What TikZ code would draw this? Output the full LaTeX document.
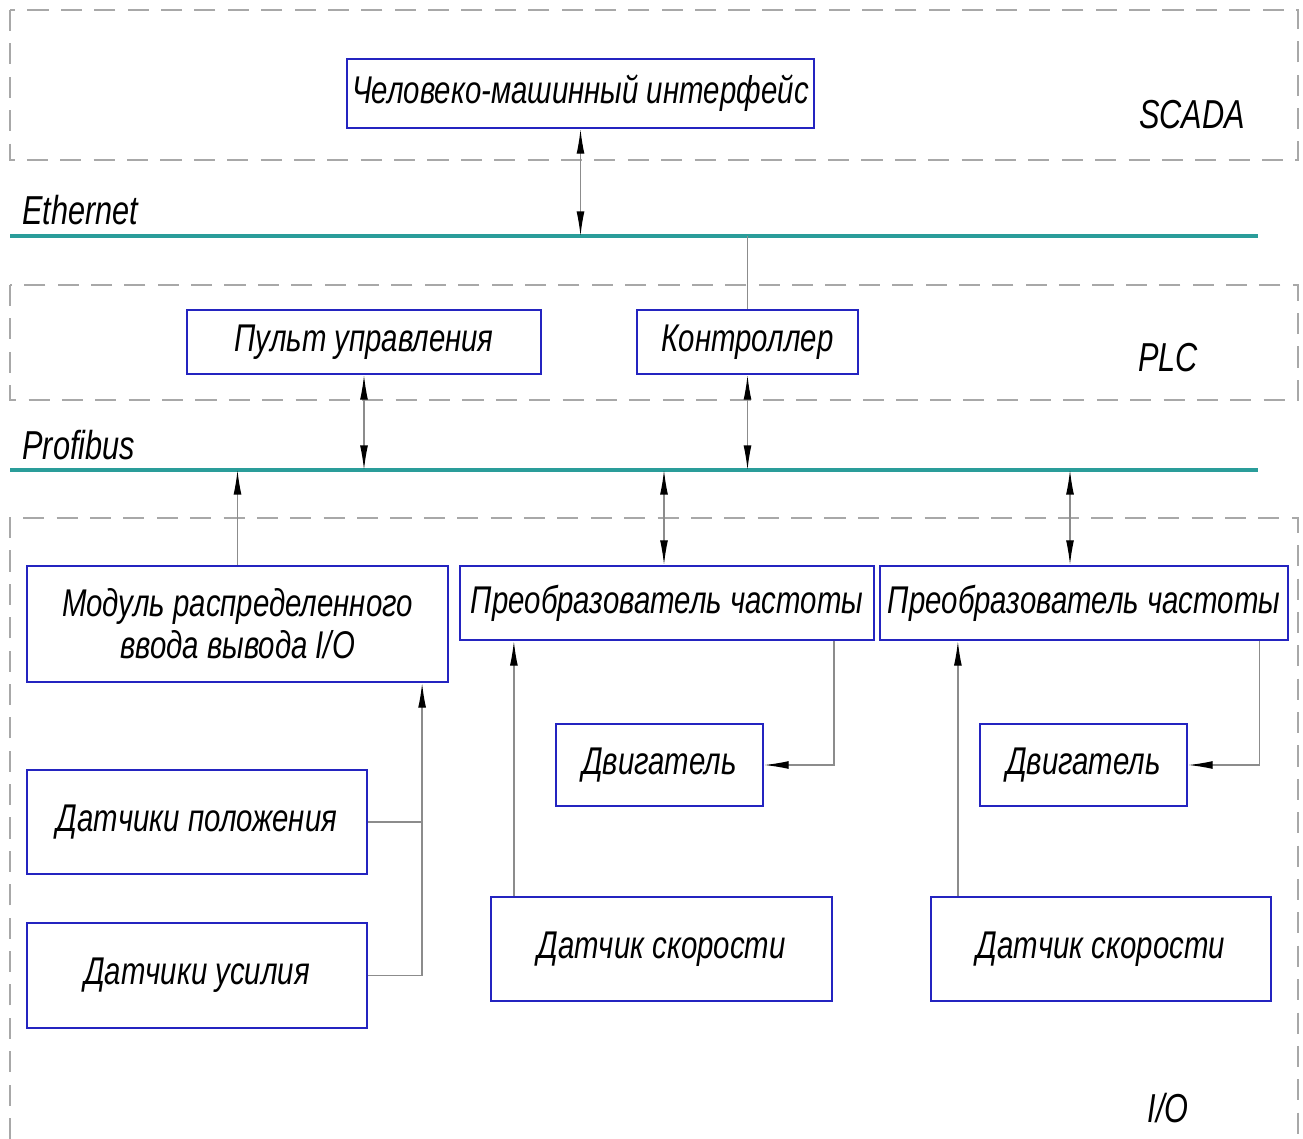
\documentclass[tikz,border=0pt]{standalone}
\usepackage{fontspec}
\setmainfont{Liberation Sans}[FakeStretch=0.76]
\usetikzlibrary{arrows.meta,calc}
\definecolor{BoxBlue}{HTML}{2424C0}
\definecolor{BusTeal}{HTML}{2A9D9A}
\definecolor{ZoneGray}{HTML}{A8A8A8}
\definecolor{LinkGray}{HTML}{8C8C8C}
\tikzset{
  blk/.style={draw=BoxBlue,line width=1.3pt,inner sep=0pt,align=center,
    font=\fontsize{22}{24}\selectfont\itshape},
  lbl/.style={inner sep=0pt,font=\fontsize{23}{24}\selectfont\itshape},
  zone/.style={draw=ZoneGray,line width=0.7pt,dash pattern=on 12pt off 7pt},
  bus/.style={draw=BusTeal,line width=2.2pt},
  link/.style={draw=LinkGray,line width=0.7pt},
  arr/.style={link,-{Latex[length=14pt,width=4.5pt,color=black]}},
  biarr/.style={link,{Latex[length=14pt,width=4.5pt,color=black]}-{Latex[length=14pt,width=4.5pt,color=black]}},
}

\begin{document}
\begin{tikzpicture}[x=0.02cm,y=-0.02cm]
    \useasboundingbox (0,0) rectangle (1303,1139);
    \draw[zone] (10,10) rectangle (1298,160);
    \draw[zone] (10,285) rectangle (1298,400);
    \draw[zone] (10,1139) -- (10,518) -- (1298,518) -- (1298,1139);
    \node[lbl] (scada) at (1192,115) {SCADA};
    \node[lbl] (plclbl) at (1168,358) {PLC};
    \node[lbl] (iolbl) at (1168,1108) {I/O};
    \node[lbl,anchor=west] (ethlbl) at (22,210) {Ethernet};
    \node[lbl,anchor=west] (pblbl) at (22,445) {Profibus};
    \coordinate (ethL) at (10,236);
    \coordinate (ethR) at (1258,236);
    \coordinate (pbL) at (10,470);
    \coordinate (pbR) at (1258,470);
    \draw[bus] (ethL) -- (ethR);
    \draw[bus] (pbL) -- (pbR);
    \node[blk,minimum width=9.34cm,minimum height=1.38cm] (hmi) at (580.5,93.5) {Человеко-машинный интерфейс};
    \node[blk,minimum width=7.08cm,minimum height=1.28cm] (pult) at (364,342) {Пульт управления};
    \node[blk,minimum width=4.42cm,minimum height=1.28cm] (plc) at (747.5,342) {Контроллер};
    \node[blk,minimum width=8.42cm,minimum height=2.32cm] (mod) at (237.5,624) {Модуль распределенного\\ввода вывода I/O};
    \node[blk,minimum width=8.28cm,minimum height=1.48cm] (pch1) at (667,603) {Преобразователь частоты};
    \node[blk,minimum width=8.16cm,minimum height=1.48cm] (pch2) at (1084,603) {Преобразователь частоты};
    \node[blk,minimum width=4.14cm,minimum height=1.64cm] (dv1) at (659.5,765) {Двигатель};
    \node[blk,minimum width=4.14cm,minimum height=1.64cm] (dv2) at (1083.5,765) {Двигатель};
    \node[blk,minimum width=6.8cm,minimum height=2.08cm] (dpol) at (197,822) {Датчики положения};
    \node[blk,minimum width=6.8cm,minimum height=2.1cm] (dus) at (197,975.5) {Датчики усилия};
    \node[blk,minimum width=6.82cm,minimum height=2.08cm] (ds1) at (661.5,949) {Датчик скорости};
    \node[blk,minimum width=6.8cm,minimum height=2.08cm] (ds2) at (1101,949) {Датчик скорости};
    \draw[biarr] (hmi.south) -- (hmi.south |- ethL);
    \draw[link] (plc.north) -- (plc.north |- ethL);
    \draw[biarr] (pult.south) -- (pult.south |- pbL);
    \draw[biarr] (plc.south) -- (plc.south |- pbL);
    \draw[arr] (mod.north) -- (mod.north |- pbL);
    \draw[biarr] ([xshift=-0.06cm]pch1.north) coordinate (p1) -- (p1 |- pbL);
    \draw[biarr] ([xshift=-0.28cm]pch2.north) coordinate (p2) -- (p2 |- pbL);
    \draw[arr] ([xshift=-0.82cm]pch1.south east) |- (dv1.east);
    \draw[arr] ([xshift=-0.6cm]pch2.south east) |- (dv2.east);
    \draw[arr] ([xshift=0.48cm]ds1.north west) coordinate (s1) -- (s1 |- pch1.south);
    \draw[arr] ([xshift=0.56cm]ds2.north west) coordinate (s2) -- (s2 |- pch2.south);
    \coordinate (mj) at ([xshift=-0.54cm]mod.south east);
    \draw[link] (dpol.east) -- (dpol.east -| mj);
    \draw[arr] (dus.east) -| (mj);
\end{tikzpicture}
\end{document}
